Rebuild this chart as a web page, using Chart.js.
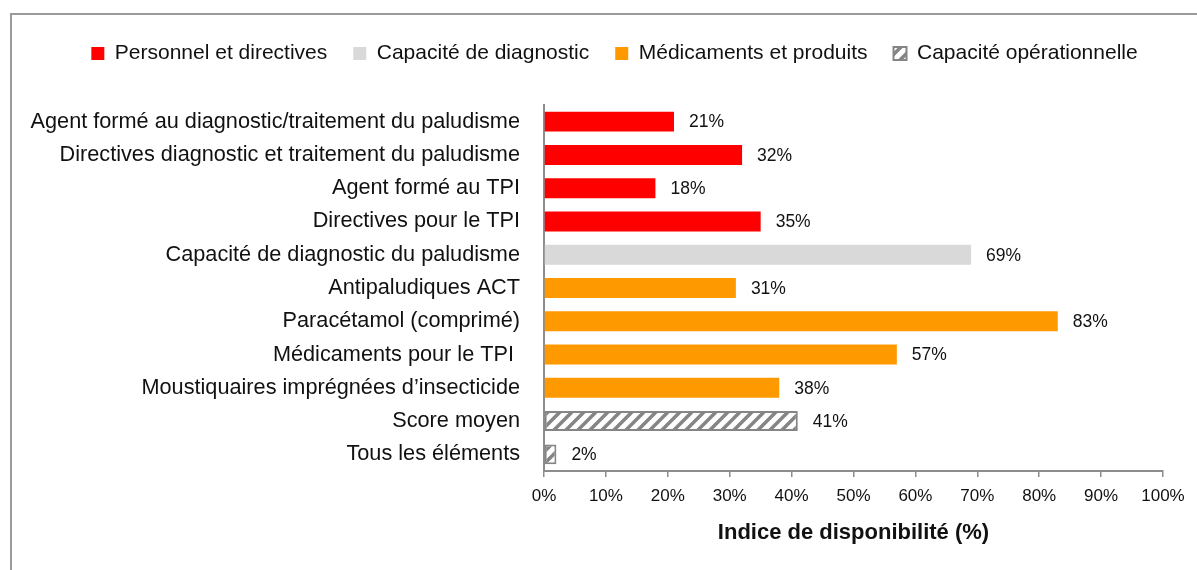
<!DOCTYPE html>
<html>
<head>
<meta charset="utf-8">
<script src="https://cdn.jsdelivr.net/npm/chart.js@4.4.0/dist/chart.umd.min.js"></script>
<style>
  html, body { margin: 0; padding: 0; background: #fff; overflow: hidden; }
  #wrap { position: relative; width: 1197px; height: 570px; }
  #frame { position: absolute; left: 10px; top: 13px; width: 1300px; height: 700px; border: 2px solid #9a9a9a; box-sizing: border-box; }
  #chart { position: absolute; left: 0; top: 0; }
</style>
</head>
<body>
<div id="wrap">
  <div id="frame"></div>
  <canvas id="chart" width="1197" height="570"></canvas>
</div>
<script>
// Data
const categories = [
  'Agent formé au diagnostic/traitement du paludisme',
  'Directives diagnostic et traitement du paludisme',
  'Agent formé au TPI',
  'Directives pour le TPI',
  'Capacité de diagnostic du paludisme',
  'Antipaludiques ACT',
  'Paracétamol (comprimé)',
  'Médicaments pour le TPI ',
  'Moustiquaires imprégnées d\u2019insecticide',
  'Score moyen',
  'Tous les éléments'
];
const values = [21, 32, 18, 35, 69, 31, 83, 57, 38, 41, 2];
const groupOf = [0, 0, 0, 0, 1, 2, 2, 2, 2, 3, 3];
const groupNames = ['Personnel et directives', 'Capacité de diagnostic', 'Médicaments et produits', 'Capacité opérationnelle'];
const xTicks = [0, 10, 20, 30, 40, 50, 60, 70, 80, 90, 100];

const FONT = '"Liberation Sans", Arial, sans-serif';

// Hatched fill for the operational capacity bars
function hatchPattern() {
  const size = 12;
  const p = document.createElement('canvas');
  p.width = size; p.height = size;
  const c = p.getContext('2d');
  c.fillStyle = '#fff';
  c.fillRect(0, 0, size, size);
  c.strokeStyle = '#858585';
  c.lineWidth = 3.5;
  c.beginPath();
  c.moveTo(0, size); c.lineTo(size, 0);
  c.moveTo(-size / 2, size / 2); c.lineTo(size / 2, -size / 2);
  c.moveTo(size / 2, size * 1.5); c.lineTo(size * 1.5, size / 2);
  c.stroke();
  return c.createPattern(p, 'repeat');
}

const fills = ['#ff0000', '#d9d9d9', '#ff9900', hatchPattern()];

const datasets = groupNames.map((name, gi) => ({
  label: name,
  data: values.map((v, i) => groupOf[i] === gi ? v : null),
  backgroundColor: fills[gi],
  borderColor: gi === 3 ? '#858585' : fills[gi],
  borderWidth: gi === 3 ? 2 : 0,
  borderSkipped: false,
  barPercentage: 0.6,
  categoryPercentage: 1.0
}));

// Percent labels at the end of each bar
const valueLabels = {
  id: 'valueLabels',
  afterDatasetsDraw(chart) {
    const ctx = chart.ctx;
    ctx.save();
    ctx.font = '17.5px ' + FONT;
    ctx.fillStyle = '#111';
    ctx.textAlign = 'left';
    ctx.textBaseline = 'middle';
    chart.data.datasets.forEach((ds, di) => {
      chart.getDatasetMeta(di).data.forEach((bar, i) => {
        if (ds.data[i] == null) return;
        ctx.fillText(ds.data[i] + '%', bar.x + 15, bar.y + 1);
      });
    });
    ctx.restore();
  }
};

new Chart(document.getElementById('chart'), {
  type: 'bar',
  data: { labels: categories, datasets: datasets },
  options: {
    indexAxis: 'y',
    responsive: false,
    animation: false,
    devicePixelRatio: 1,
    layout: { padding: { left: 20, right: -12, top: 17, bottom: 0 } },
    scales: {
      x: {
        stacked: true,
        min: 0,
        max: 100,
        afterBuildTicks: s => { s.ticks = xTicks.map(v => ({ value: v })); },
        afterFit: s => { s.height = 99; s.paddingRight = 34; },
        grid: { drawOnChartArea: false, drawTicks: true, tickLength: 6, color: '#8c8c8c', lineWidth: 1.5 },
        border: { color: '#8c8c8c', width: 2 },
        ticks: {
          color: '#111',
          font: { family: FONT, size: 17 },
          padding: 9,
          maxRotation: 0,
          autoSkip: false,
          callback: v => v + '%'
        },
        title: {
          display: true,
          text: 'Indice de disponibilité (%)',
          color: '#111',
          font: { family: FONT, size: 22, weight: 'bold' },
          padding: { top: 4, bottom: 24 }
        }
      },
      y: {
        stacked: true,
        afterFit: s => { s.width = 524; },
        grid: { display: false, drawTicks: false },
        border: { display: true, color: '#8c8c8c', width: 2 },
        ticks: {
          color: '#111',
          font: { family: FONT, size: 21.7 },
          padding: 24,
          autoSkip: false
        }
      }
    },
    plugins: {
      legend: {
        position: 'top',
        weight: 3000,
        labels: {
          color: '#111',
          font: { family: FONT, size: 21 },
          boxWidth: 13,
          boxHeight: 13,
          padding: 26
        }
      },
      title: {
        display: true,
        text: '',
        font: { size: 1, lineHeight: 1 },
        padding: { top: 0, bottom: 30 }
      },
      tooltip: { enabled: false }
    }
  },
  plugins: [valueLabels]
});
</script>
</body>
</html>
